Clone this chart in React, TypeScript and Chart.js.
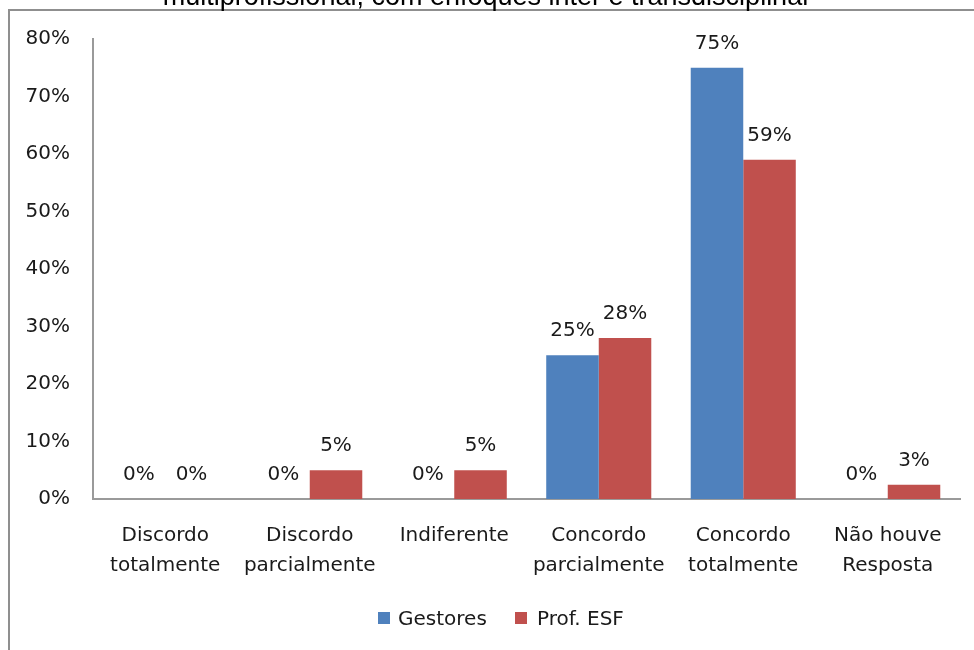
import React, { useEffect, useRef } from "react";
import { Chart, registerables } from "chart.js";

Chart.register(...registerables);

const categories: string[][] = [
  ["Discordo", "totalmente"],
  ["Discordo", "parcialmente"],
  ["Indiferente"],
  ["Concordo", "parcialmente"],
  ["Concordo", "totalmente"],
  ["Não houve", "Resposta"],
];
const seriesNames: string[] = ["Gestores", "Prof. ESF"];
const seriesColors: string[] = ["#4F81BD", "#C0504D"];
const gestores: number[] = [0, 0, 0, 25, 75, 0];
const profESF: number[] = [0, 5, 5, 28, 59, 2.5];
const yTicks: number[] = [0, 10, 20, 30, 40, 50, 60, 70, 80];
const titleText = "multiprofissional, com enfoques inter e transdisciplinar";

const FONT = "'DejaVu Sans', sans-serif";
const TEXT = "#1a1a1a";

const dataLabels = {
  id: "dataLabels",
  afterDatasetsDraw(chart: any) {
    const ctx = chart.ctx;
    ctx.save();
    ctx.font = `20px ${FONT}`;
    ctx.fillStyle = TEXT;
    ctx.textAlign = "center";
    ctx.textBaseline = "alphabetic";
    chart.data.datasets.forEach((ds: any, i: number) => {
      const meta = chart.getDatasetMeta(i);
      meta.data.forEach((el: any, j: number) => {
        const v = ds.data[j] as number;
        ctx.fillText(Math.round(v) + "%", el.x, el.y - 19);
      });
    });
    ctx.restore();
  },
};

export default function App() {
  const ref = useRef<HTMLCanvasElement | null>(null);
  useEffect(() => {
    if (!ref.current) return;
    const chart = new Chart(ref.current, {
      type: "bar",
      data: {
        labels: categories,
        datasets: [
          { label: seriesNames[0], data: gestores, backgroundColor: seriesColors[0] },
          { label: seriesNames[1], data: profESF, backgroundColor: seriesColors[1] },
        ],
      },
      options: {
        responsive: false,
        animation: false,
        layout: { padding: { left: 0, right: 14, top: 39, bottom: 52 } },
        datasets: {
          bar: { categoryPercentage: 0.727, barPercentage: 1 },
        },
        scales: {
          x: {
            grid: { display: false },
            border: { display: true, color: "#9a9a9a", width: 2 },
            ticks: {
              color: TEXT,
              font: { family: FONT, size: 20, lineHeight: 1.5 },
              padding: 14,
              maxRotation: 0,
              autoSkip: false,
            },
            afterFit(scale: any) {
              scale.height = 99;
            },
          },
          y: {
            min: 0,
            max: 80,
            grid: { display: false },
            border: { display: true, color: "#9a9a9a", width: 2 },
            afterBuildTicks(scale: any) {
              scale.ticks = yTicks.map((v) => ({ value: v }));
            },
            ticks: {
              color: TEXT,
              font: { family: FONT, size: 20 },
              padding: 15,
              callback: (v: any) => v + "%",
            },
            afterFit(scale: any) {
              scale.width = 93;
            },
          },
        },
        plugins: {
          legend: { display: false },
          tooltip: { enabled: false },
        },
      },
      plugins: [dataLabels],
    });
    return () => chart.destroy();
  }, []);

  const legendItems = [
    { name: seriesNames[0], color: seriesColors[0], boxX: 378, textX: 398 },
    { name: seriesNames[1], color: seriesColors[1], boxX: 515, textX: 537 },
  ];

  return (
    <div
      style={{
        position: "fixed",
        left: 0,
        top: 0,
        width: 974,
        height: 650,
        overflow: "hidden",
        background: "#fff",
      }}
    >
      <canvas
        ref={ref}
        width={974}
        height={650}
        style={{ position: "absolute", left: 0, top: 0, width: 974, height: 650 }}
      />
      {legendItems.map((it) => (
        <React.Fragment key={it.name}>
          <div
            style={{
              position: "absolute",
              left: it.boxX,
              top: 612,
              width: 12,
              height: 12,
              background: it.color,
            }}
          />
          <div
            style={{
              position: "absolute",
              left: it.textX,
              top: 603,
              height: 30,
              lineHeight: "30px",
              fontFamily: FONT,
              fontSize: 20,
              color: TEXT,
              whiteSpace: "nowrap",
            }}
          >
            {it.name}
          </div>
        </React.Fragment>
      ))}
      <div
        style={{
          position: "absolute",
          left: 8,
          top: 9,
          width: 1000,
          height: 700,
          borderLeft: "2px solid #8f8f8f",
          borderTop: "2px solid #8f8f8f",
          pointerEvents: "none",
        }}
      />
      <div
        style={{
          position: "absolute",
          left: 0,
          top: -17,
          width: 974,
          textAlign: "center",
          fontFamily: "'Liberation Sans', Arial, sans-serif",
          fontSize: 27,
          lineHeight: "27px",
          color: "#000",
          whiteSpace: "nowrap",
        }}
      >
        {titleText}
      </div>
    </div>
  );
}
